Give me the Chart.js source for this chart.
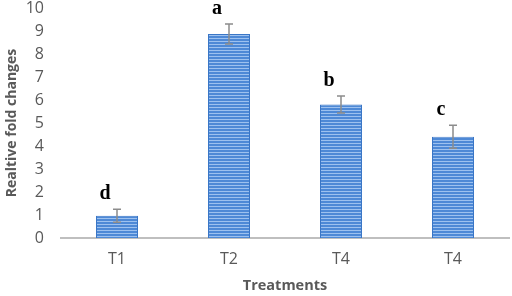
<!DOCTYPE html>
<html>
<head>
<meta charset="utf-8">
<script src="https://cdn.jsdelivr.net/npm/chart.js@4.4.1/dist/chart.umd.min.js"></script>
<style>
  html, body { margin: 0; padding: 0; background: #fff; }
  #wrap { width: 512px; height: 296px; }
</style>
</head>
<body>
<div id="wrap"><canvas id="foldChart"></canvas></div>
<script>
const treatments = ['T1', 'T2', 'T4', 'T4'];
const foldValues = [0.97, 8.87, 5.8, 4.4];
const errValues = [0.28, 0.43, 0.37, 0.5];
const sigLetters = ['d', 'a', 'b', 'c'];
const yTicks = [0, 1, 2, 3, 4, 5, 6, 7, 8, 9, 10];

// striped fill like the excel bars
function makeStripes() {
    const c = document.createElement('canvas');
    c.width = 3; c.height = 3;
    const g = c.getContext('2d');
    g.fillStyle = '#4e89d6';
    g.fillRect(0, 0, 3, 3);
    g.fillStyle = '#9dc1ef';
    g.fillRect(0, 2, 3, 1);
    return g.createPattern(c, 'repeat');
}

const errorBarPlugin = {
    id: 'errorBars',
    afterDatasetsDraw(chart) {
        const ctx = chart.ctx;
        const y = chart.scales.y;
        const meta = chart.getDatasetMeta(0);
        ctx.save();
        ctx.strokeStyle = '#8c8c8c';
        ctx.lineWidth = 1.5;
        meta.data.forEach((bar, i) => {
            const x = bar.x;
            const top = y.getPixelForValue(foldValues[i] + errValues[i]);
            const bot = y.getPixelForValue(foldValues[i] - errValues[i]);
            ctx.beginPath();
            ctx.moveTo(x, top); ctx.lineTo(x, bot);
            ctx.moveTo(x - 4, top); ctx.lineTo(x + 4, top);
            ctx.moveTo(x - 4, bot); ctx.lineTo(x + 4, bot);
            ctx.stroke();
            // significance letter
            ctx.fillStyle = '#000';
            ctx.font = 'bold 20px "Liberation Serif", "DejaVu Serif", serif';
            ctx.textAlign = 'center';
            ctx.textBaseline = 'bottom';
            ctx.fillText(sigLetters[i], x - 12, top - 5);
        });
        ctx.restore();
    }
};

const ctx = document.getElementById('foldChart');
new Chart(ctx, {
    type: 'bar',
    plugins: [errorBarPlugin],
    data: {
        labels: treatments,
        datasets: [{
            data: foldValues,
            backgroundColor: makeStripes(),
            borderColor: '#3a76c6',
            borderWidth: { left: 1, right: 1, top: 1, bottom: 0 },
            categoryPercentage: 1.0,
            barPercentage: 0.375
        }]
    },
    options: {
        responsive: true,
        maintainAspectRatio: false,
        animation: false,
        layout: { padding: { top: 8, right: 3, left: 2, bottom: 1 } },
        plugins: {
            legend: { display: false },
            tooltip: { enabled: false }
        },
        scales: {
            x: {
                afterFit(axis) { axis.height = 57; },
                grid: { display: false, drawTicks: false },
                border: { color: '#bfbfbf', width: 2 },
                ticks: {
                    color: '#595959',
                    padding: 12,
                    font: { family: '"Open Sans", sans-serif', size: 16 }
                },
                title: {
                    display: true,
                    text: 'Treatments',
                    color: '#595959',
                    padding: { top: 0, bottom: 0 },
                    font: { family: '"Open Sans", sans-serif', size: 14.5, weight: 'bold' }
                }
            },
            y: {
                min: 0,
                max: 10,
                afterBuildTicks(axis) { axis.ticks = yTicks.map(v => ({ value: v })); },
                afterFit(axis) { axis.paddingTop = 0; axis.paddingBottom = 0; axis.width = 59; },
                grid: { display: false, drawTicks: false },
                border: { display: false },
                ticks: {
                    autoSkip: false,
                    color: '#595959',
                    padding: 17,
                    font: { family: '"Open Sans", sans-serif', size: 16 }
                },
                title: {
                    display: true,
                    text: 'Realtive fold changes',
                    color: '#595959',
                    padding: { top: 2, bottom: 0 },
                    font: { family: '"Open Sans", sans-serif', size: 14, weight: 'bold' }
                }
            }
        }
    }
});
</script>
</body>
</html>
